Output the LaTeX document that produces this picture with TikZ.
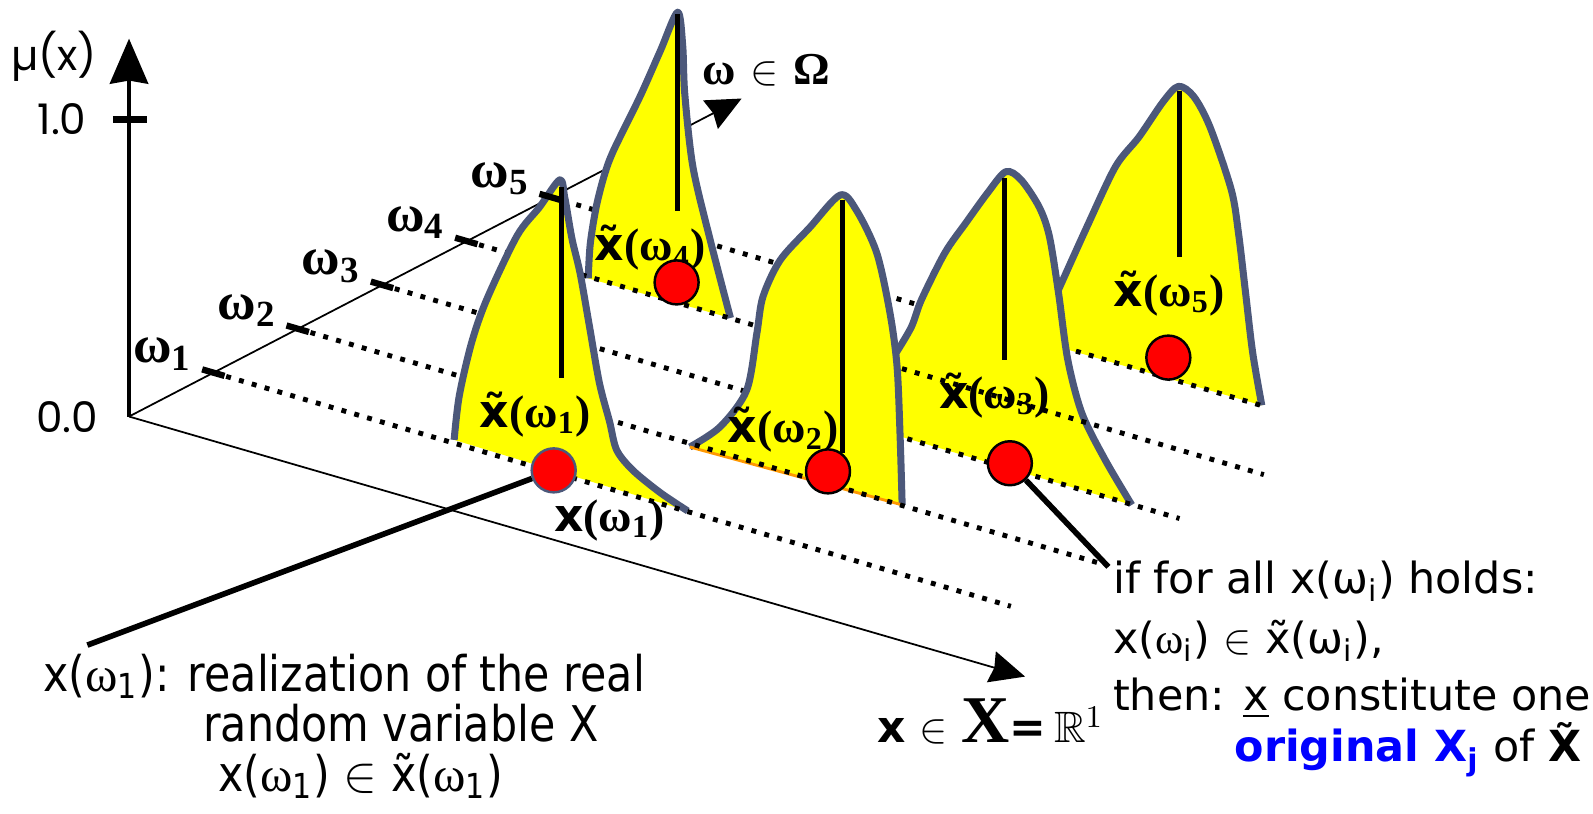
\documentclass[tikz,border=0pt]{standalone}
\usepackage{amssymb}
\usepackage{fontspec}
\setmainfont{DejaVu Sans}
\newfontfamily\serifgr{Liberation Serif}
\newfontfamily\narrowfont[FakeStretch=0.87]{DejaVu Sans}
\newfontfamily\gothicfont{Poppins}
\usetikzlibrary{arrows.meta, positioning, calc}

\definecolor{peakyellow}{RGB}{255,255,0}
\definecolor{peakslate}{RGB}{76,88,122}
\definecolor{dotred}{RGB}{255,0,0}
\definecolor{origblue}{RGB}{0,0,255}
\definecolor{baseorange}{RGB}{255,153,0}

% outlines of the five membership functions
\newcommand\peakone{plot[smooth,tension=.5] coordinates {(447,433) (452,390) (464,338) (479,295) (509,232) (531,204) (551,177) (556,195) (563,235) (571,269) (580,320) (590,377) (600,415) (607,443) (623,463) (650,485) (677,503)}}
\newcommand\peaktwo{plot[smooth,tension=.5] coordinates {(679,440) (709,420) (735,384) (745,328) (751,292) (768,256) (797,224) (827,192) (843,207) (863,249) (876,308) (883,361) (886,430) (888,497)}}
\newcommand\peakthree{plot[smooth,tension=.5] coordinates {(881,349) (897,322) (907,295) (930,249) (951,219) (972,190) (990,169) (1005,177) (1023,204) (1033,233) (1042,289) (1051,354) (1065,407) (1088,453) (1114,497)}}
\newcommand\peakfour{plot[smooth,tension=.5] coordinates {(579,274) (581,240) (587,203) (595,172) (604,148) (630,95) (650,50) (667,12) (672,45) (674,92) (682,164) (699,236) (719,313)}}
\newcommand\peakfive{plot[smooth,tension=.5] coordinates {(1042,285) (1070,223) (1098,164) (1121,135) (1145,100) (1160,85) (1175,95) (1191,125) (1212,187) (1219,229) (1226,288) (1233,347) (1242,399)}}

\tikzset{
  muaxis/.style={line width=1.4pt, -{Stealth[length=0.45cm,width=0.38cm,inset=0.03cm]}},
  thinaxis/.style={line width=0.5pt, -{Stealth[length=0.35cm,width=0.32cm,inset=0.03cm]}},
  omtick/.style={line width=1.8pt},
  dotline/.style={line width=1.4pt, dash pattern=on 1.4pt off 2.4pt},
  peakfill/.style={fill=peakyellow},
  peakedge/.style={draw=peakslate, line width=2pt, line join=round},
  peakaxis/.style={line width=1.4pt},
  realdot/.style={circle, draw=black, fill=dotred, minimum size=0.44cm,
    inner sep=0pt, line width=0.7pt},
  fuzzylabel/.style={font=\fontsize{13}{15}\selectfont, inner sep=0pt},
  omlabel/.style={font=\serifgr\bfseries\fontsize{15}{17}\selectfont, inner sep=0pt},
  gothic/.style={font=\gothicfont\fontsize{12}{14}\selectfont, inner sep=0pt},
  lefttext/.style={font=\narrowfont\fontsize{14}{14.2}\selectfont, inner sep=0pt},
  righttext/.style={font=\fontsize{12.2}{15}\selectfont, inner sep=0pt},
  connector/.style={line width=1.6pt}
}

\begin{document}
\begin{tikzpicture}[x=0.010159cm, y=-0.010159cm]
  \useasboundingbox (0,0) rectangle (1568,801);

  \coordinate (O) at (127,410);
  \coordinate (mutip) at (127,38);
  \coordinate (omtip) at (730,97);
  \coordinate (xtip) at (1009,666);
  \foreach \k in {1,...,5}
    \coordinate (w\k) at ({127+83*\k},{410-43.2*\k});

  \draw[muaxis] (O) -- (mutip);
  \draw[line width=2pt] (111,118) -- (145,118);
  \draw[thinaxis] (O) -- (omtip);
  \draw[thinaxis] (O) -- (xtip);

  \node[gothic] (mulabel) at (53,55) {µ(x)};
  \node[gothic] (one) at (61,117) {1.0};
  \node[gothic] (zero) at (66,411) {0.0};
  \node[font=\fontsize{13}{15}\selectfont, inner sep=0pt] (omega) at (754,69)
    {{\serifgr\bfseries ω} $\in$ {\serifgr\bfseries Ω}};
  \node[font=\fontsize{12.5}{15}\selectfont, inner sep=0pt] (xspace) at (975,710)
    {{\bfseries x} $\in$ {\serifgr\bfseries\fontsize{19}{20}\selectfont X}{\bfseries =}\,$\mathbb{R}^1$};

  % back to front
  \fill[peakfill] \peakfive -- (1040,341) -- cycle;
  \draw[peakedge] \peakfive;
  \draw[peakaxis] (1161,90) -- (1161,253);
  \draw[dotline] (w5) -- ++(699,205);

  \fill[peakfill] \peakthree -- (884,429) -- cycle;
  \draw[peakedge] \peakthree;
  \draw[peakaxis] (989,175) -- (989,354);
  \fill[peakfill] \peakfour -- cycle;
  \draw[peakedge] \peakfour;
  \draw[peakaxis] (667,14) -- (667,208);
  \draw[dotline] (w4) -- ++(785,230);
  \draw[dotline] (w3) -- ++(785,230);

  \fill[peakfill] \peaktwo -- cycle;
  \draw[peakedge] \peaktwo;
  \draw[peakaxis] (829,197) -- (829,446);
  \draw[baseorange, line width=0.8pt] (679,440) -- (888,497);
  \draw[dotline] (w2) -- ++(790,231);

  \fill[peakfill] \peakone -- cycle;
  \draw[peakedge] \peakone;
  \draw[peakaxis] (553,184) -- (553,372);
  \draw[dotline] (w1) -- ++(785,230);

  \foreach \k in {1,...,5} {
    \draw[omtick] ([shift={(-11,-3.2)}]w\k) -- ++(22,6.4);
    \node[omlabel] (om\k) at ([shift={(-50,-18)}]w\k) {ω\textsubscript{\k}};
  }

  \node[fuzzylabel] (fz1) at (527,408) {{\bfseries\~{x}}{\serifgr\bfseries(ω\textsubscript{1})}};
  \node[fuzzylabel] (fz2) at (771,423) {{\bfseries\~{x}}{\serifgr\bfseries(ω\textsubscript{2})}};
  \node[fuzzylabel] (fz3) at (979,389) {{\bfseries\~{x}}{\serifgr\bfseries(ω\textsubscript{3})}};
  \node[fuzzylabel] (fz4) at (640,244) {{\bfseries\~{x}}{\serifgr\bfseries(ω\textsubscript{4})}};
  \node[fuzzylabel] (fz5) at (1151,289) {{\bfseries\~{x}}{\serifgr\bfseries(ω\textsubscript{5})}};
  \node[fuzzylabel] (xw1) at (600,512) {{\bfseries x}{\serifgr\bfseries(ω\textsubscript{1})}};

  \node[realdot, draw=peakslate] (d1) at (545,463) {};
  \node[realdot] (d2) at (815,464) {};
  \node[realdot] (d3) at (994,456) {};
  \node[realdot] (d4) at (666,278) {};
  \node[realdot] (d5) at (1150,352) {};

  \coordinate (c1) at (86,635);
  \coordinate (c3) at (1091,558);
  \draw[connector] (d1) -- (c1);
  \draw[connector] (d3) -- (c3);

  \node[lefttext, anchor=north west, align=left] (realiz) at (42,643)
    {x({\serifgr ω}\textsubscript{1}): realization of the real\\
     \hspace*{1.60cm}random variable X\\
     \hspace*{1.75cm}x({\serifgr ω}\textsubscript{1}) $\in$ \~{x}({\serifgr ω}\textsubscript{1})};

  \node[righttext, anchor=base west] (ifall) at (1095,584)
    {if for all x(ω\textsubscript{i}) holds:};
  \node[righttext, anchor=base west] (xin) at (1095,643)
    {x({\serifgr ω}\textsubscript{i}) $\in$ \~{x}(ω\textsubscript{i}),};
  \node[righttext, anchor=base west] (then) at (1095,699)
    {then: \underline{x} constitute one};
  \node[righttext, anchor=base east] (orig) at (1557,750)
    {{\bfseries\color{origblue}original X\textsubscript{j}} of {\bfseries\~{X}}};
\end{tikzpicture}
\end{document}
